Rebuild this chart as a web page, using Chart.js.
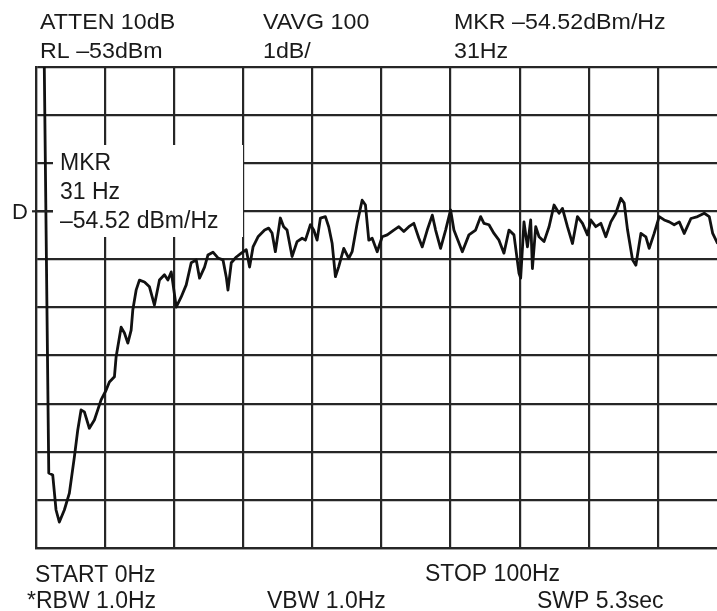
<!DOCTYPE html>
<html>
<head>
<meta charset="utf-8">
<script src="https://cdn.jsdelivr.net/npm/chart.js@4.4.1/dist/chart.umd.min.js"></script>
<style>
  html, body { margin: 0; padding: 0; background: #fff; overflow: hidden; width: 717px; height: 611px; }
  #wrap { position: relative; width: 730px; height: 611px; }
</style>
</head>
<body>
<div id="wrap"><canvas id="c" width="730" height="611"></canvas></div>
<script>
// ---- data ----
const freqHz = [1.20,1.85,2.42,2.90,3.38,4.10,4.83,5.55,6.04,6.52,7.00,7.72,8.45,9.42,10.14,10.62,11.35,11.59,12.32,12.80,13.29,13.77,14.01,14.49,14.97,15.70,16.42,17.14,17.87,18.59,19.09,19.57,19.81,20.29,21.01,21.74,22.46,23.19,23.67,24.39,24.88,25.61,26.33,27.06,27.54,27.78,28.26,28.99,29.71,30.43,30.91,31.41,32.13,33.09,33.67,34.16,34.64,35.36,35.84,36.33,37.06,37.78,38.51,38.99,39.71,40.19,40.68,41.16,41.88,42.36,42.86,43.33,43.81,44.54,45.26,45.75,46.48,47.20,47.68,48.16,48.65,49.38,50.10,50.83,51.78,52.51,53.23,53.96,54.68,55.41,55.90,56.62,57.35,57.83,58.55,59.28,60.00,60.48,61.70,62.65,63.62,64.35,64.83,65.55,66.28,67.00,67.72,68.45,69.17,69.90,70.14,70.62,71.12,71.59,71.84,72.32,72.80,73.52,74.25,74.97,75.70,76.19,76.91,77.64,78.36,79.09,79.81,80.29,81.01,81.74,82.46,83.19,83.91,84.64,85.12,85.61,86.33,86.81,87.54,88.26,88.74,89.46,90.19,90.91,91.64,92.36,93.09,93.81,94.78,95.75,96.71,97.43,97.93,98.65];
const levelDbm = [-53.00,-61.44,-61.48,-62.21,-62.46,-62.21,-61.86,-61.11,-60.55,-60.13,-60.17,-60.51,-60.34,-59.92,-59.72,-59.55,-59.44,-59.03,-58.41,-58.53,-58.74,-58.47,-58.05,-57.64,-57.43,-57.47,-57.57,-57.95,-57.43,-57.32,-57.43,-57.26,-57.49,-57.99,-57.78,-57.53,-57.07,-57.01,-57.39,-57.16,-56.91,-56.85,-56.97,-57.01,-57.37,-57.64,-57.07,-56.95,-56.87,-56.80,-57.16,-56.74,-56.53,-56.39,-56.35,-56.45,-56.84,-56.14,-56.32,-56.39,-56.94,-56.63,-56.56,-56.60,-56.28,-56.39,-56.60,-56.14,-56.11,-56.32,-56.67,-57.36,-57.15,-56.77,-56.98,-56.84,-56.25,-55.77,-55.87,-56.60,-56.56,-56.84,-56.53,-56.49,-56.39,-56.32,-56.42,-56.32,-56.25,-56.56,-56.74,-56.39,-56.08,-56.39,-56.77,-56.39,-55.97,-56.39,-56.84,-56.49,-56.39,-56.11,-56.25,-56.28,-56.46,-56.60,-56.87,-56.39,-56.49,-57.29,-57.39,-56.22,-56.74,-56.18,-57.19,-56.32,-56.53,-56.63,-56.32,-55.87,-56.04,-55.94,-56.32,-56.67,-56.11,-56.25,-56.49,-56.18,-56.32,-56.25,-56.53,-56.22,-56.04,-55.73,-55.83,-56.39,-57.01,-57.12,-56.46,-56.53,-56.77,-56.46,-56.11,-56.18,-56.22,-56.28,-56.22,-56.46,-56.15,-56.11,-56.04,-56.11,-56.46,-56.67];

// axis settings (reference level -53 dBm, 1 dB/div, 0..100 Hz)
const xRange = [0, 100];
const yRange = [-63, -53];
const xStep = 10;
const yStep = 1;

// annotation texts
const headerLeft = ["ATTEN 10dB", "RL \u201353dBm"];
const headerMid = ["VAVG 100", "1dB/"];
const headerRight = ["MKR \u201354.52dBm/Hz", "31Hz"];
const footerRow1 = ["START 0Hz", "STOP 100Hz"];
const footerRow2 = ["*RBW 1.0Hz", "VBW 1.0Hz", "SWP 5.3sec"];
const markerBox = ["MKR", "31 Hz", "\u201354.52 dBm/Hz"];
const displayLineLabel = "D";

const points = freqHz.map((f, i) => ({ x: f, y: levelDbm[i] }));

const FONT = '"Liberation Sans", Arial, Helvetica, sans-serif';
const TXT = '#1a1a1a';

function txt(ctx, s, x, y, size, sx, sy) {
  ctx.save();
  ctx.font = size + 'px ' + FONT;
  ctx.fillStyle = TXT;
  ctx.textBaseline = 'alphabetic';
  ctx.textAlign = 'left';
  ctx.translate(x, y);
  ctx.scale(sx || 1, sy || 1);
  ctx.fillText(s, 0, 0);
  ctx.restore();
}

const annot = {
  id: 'annot',
  afterDatasetsDraw(chart) {
    const ctx = chart.ctx;
    // marker readout box
    ctx.save();
    ctx.fillStyle = '#ffffff';
    ctx.fillRect(53, 145, 190, 92);
    ctx.restore();
    txt(ctx, markerBox[0], 60, 169.5, 23);
    txt(ctx, markerBox[1], 60, 198.5, 23);
    txt(ctx, markerBox[2], 60, 228, 23);
  },
  afterDraw(chart) {
    const ctx = chart.ctx;
    const hs = 0.92;
    txt(ctx, headerLeft[0], 40, 29, 23, 1.01, hs);
    txt(ctx, headerLeft[1], 40, 58, 23, 1.01, hs);
    txt(ctx, headerMid[0], 263, 29, 23, 1.01, hs);
    txt(ctx, headerMid[1], 263, 58, 23, 1.01, hs);
    txt(ctx, headerRight[0], 454, 29, 23, 1.01, hs);
    txt(ctx, headerRight[1], 454, 58, 23, 1.01, hs);
    txt(ctx, footerRow1[0], 35, 582, 23);
    txt(ctx, footerRow1[1], 425, 581, 23);
    txt(ctx, footerRow2[0], 27, 608, 23);
    txt(ctx, footerRow2[1], 267, 608, 23);
    txt(ctx, footerRow2[2], 537, 608, 23);
    txt(ctx, displayLineLabel, 12, 218.5, 22);
    // small display-line tick left of the axis
    const y = chart.scales.y.getPixelForValue(-56);
    ctx.save();
    ctx.strokeStyle = '#262626';
    ctx.lineWidth = 2.2;
    ctx.beginPath();
    ctx.moveTo(32, y);
    ctx.lineTo(53, y);
    ctx.stroke();
    ctx.restore();
  }
};

new Chart(document.getElementById('c'), {
  type: 'line',
  data: {
    datasets: [{
      data: points,
      borderColor: '#111111',
      borderWidth: 2.8,
      borderJoinStyle: 'round',
      pointRadius: 0,
      tension: 0,
      fill: false
    }]
  },
  options: {
    responsive: false,
    animation: false,
    events: [],
    layout: { padding: { left: 36, top: 67, right: 3, bottom: 63 } },
    plugins: { legend: { display: false }, tooltip: { enabled: false }, title: { display: false } },
    scales: {
      x: {
        type: 'linear', min: xRange[0], max: xRange[1],
        ticks: { display: false, stepSize: xStep },
        grid: { color: '#262626', lineWidth: 2.2, drawTicks: false, tickLength: 0 },
        border: { display: true, color: '#262626', width: 2.2 }
      },
      y: {
        type: 'linear', min: yRange[0], max: yRange[1],
        ticks: { display: false, stepSize: yStep },
        grid: { color: '#262626', lineWidth: 2.2, drawTicks: false, tickLength: 0 },
        border: { display: true, color: '#262626', width: 2.2 }
      }
    }
  },
  plugins: [annot]
});
</script>
</body>
</html>
